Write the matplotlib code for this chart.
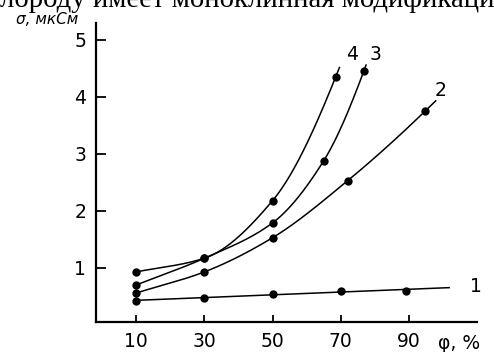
import matplotlib
matplotlib.use("Agg")
import matplotlib.pyplot as plt
import numpy as np

# humidity phi, % and conductivity sigma, uS for curves 1..4
x1 = [10, 30, 50, 70, 89]
y1 = [0.42, 0.48, 0.54, 0.60, 0.60]
x2 = [10, 30, 50, 72, 94.7]
y2 = [0.56, 0.93, 1.53, 2.53, 3.75]
x3 = [10, 30, 50, 65, 76.8]
y3 = [0.70, 1.17, 1.79, 2.88, 4.46]
x4 = [10, 30, 50, 68.5]
y4 = [0.93, 1.17, 2.18, 4.35]

x_ticks = [10, 30, 50, 70, 90]
y_ticks = [1, 2, 3, 4, 5]
curve_labels = ["1", "2", "3", "4"]

SANS = ["DejaVu Sans"]
SERIF = ["Liberation Serif", "DejaVu Serif"]

plt.rcParams.update({
    "font.family": SANS,
    "font.size": 13.5,
})


def pchip(xs, ys, x_end, n=300):
    # monotone cubic through the measured points, short straight run past the last one
    x = np.asarray(xs, float)
    y = np.asarray(ys, float)
    h = np.diff(x)
    d = np.diff(y) / h
    m = np.zeros_like(y)
    for i in range(1, len(x) - 1):
        if d[i - 1] * d[i] > 0:
            w1 = 2 * h[i] + h[i - 1]
            w2 = h[i] + 2 * h[i - 1]
            m[i] = (w1 + w2) / (w1 / d[i - 1] + w2 / d[i])
    m[0] = d[0]
    m[-1] = ((2 * h[-1] + h[-2]) * d[-1] - h[-1] * d[-2]) / (h[-1] + h[-2])
    if m[-1] * d[-1] <= 0:
        m[-1] = 0
    xx = np.linspace(x[0], x[-1], n)
    k = np.clip(np.searchsorted(x, xx) - 1, 0, len(x) - 2)
    t = (xx - x[k]) / h[k]
    h00 = 2 * t**3 - 3 * t**2 + 1
    h10 = t**3 - 2 * t**2 + t
    h01 = -2 * t**3 + 3 * t**2
    h11 = t**3 - t**2
    yy = h00 * y[k] + h10 * h[k] * m[k] + h01 * y[k + 1] + h11 * h[k] * m[k + 1]
    if x_end > x[-1]:
        xx = np.append(xx, x_end)
        yy = np.append(yy, y[-1] + m[-1] * (x_end - x[-1]))
    return xx, yy


def linfit(xs, ys, x_end):
    coef = np.polyfit(xs, ys, 1)
    xx = np.array([xs[0], x_end])
    return xx, np.polyval(coef, xx)


fig = plt.figure(figsize=(4.94, 3.52), dpi=100)
ax = fig.add_axes([0.194, 0.085, 0.772, 0.85])

lines = [
    (x1, y1, linfit(x1, y1, 102)),
    (x2, y2, pchip(x2, y2, 98)),
    (x3, y3, pchip(x3, y3, 77.5)),
    (x4, y4, pchip(x4, y4, 69.7)),
]
for xs, ys, (xx, yy) in lines:
    ax.plot(xx, yy, color="black", lw=1.1, solid_capstyle="butt")
    ax.plot(xs, ys, "o", color="black", ms=6, mew=0)

label_pos = [(109.7, 0.67), (99.4, 4.11), (80.3, 4.74), (73.2, 4.74)]
for lab, (lx, ly) in zip(curve_labels, label_pos):
    ax.text(lx, ly, lab, ha="center", va="center", fontsize=13.5, clip_on=False)

ax.set_xlim(-1.8, 110)
ax.set_ylim(0.05, 5.3)
ax.set_xticks(x_ticks)
ax.set_yticks(y_ticks)
ax.tick_params(axis="x", direction="in", length=5, width=1.3, pad=7.5)
ax.tick_params(axis="y", direction="in", length=7, width=1.3, pad=7)
for s in ["top", "right"]:
    ax.spines[s].set_visible(False)
for s in ["left", "bottom"]:
    ax.spines[s].set_linewidth(1.6)

ax.text(104.7, -0.33, "φ, %", ha="center", va="center", fontsize=13.5, clip_on=False)
fig.text(47 / 494, 1 - 19 / 352, "σ, мкСм", ha="center", va="center",
         fontsize=11, style="italic", family=SANS)
fig.text(0.0, 1 - 7 / 352, "лороду имеет моноклинная модификаци", ha="left",
         va="baseline", fontsize=20.7, family=SERIF)

fig.savefig("out.png", dpi=100)
